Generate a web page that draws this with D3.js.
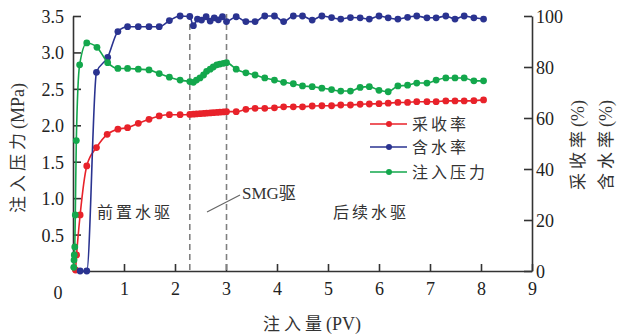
<!DOCTYPE html>
<html>
<head>
<meta charset="utf-8">
<script src="https://cdn.jsdelivr.net/npm/d3@7"></script>
<style>
  html, body { margin: 0; padding: 0; background: #fff; }
  svg { display: block; }
  .num { font-family: "Liberation Serif", "DejaVu Serif", serif; font-size: 18px; fill: #222; }
  .cjk { font-family: "Noto Sans CJK SC", sans-serif; font-size: 16px; fill: #333; letter-spacing: 3px; }
</style>
</head>
<body>
<svg id="chart" width="617" height="336"></svg>
<script>
// Injected volume (PV) and measured values for each series
const recoveryPV = [0.05, 0.07, 0.14, 0.27, 0.46, 0.67, 0.88, 1.07, 1.28, 1.49, 1.69, 1.89, 2.10,
  2.29, 2.36, 2.42, 2.49, 2.56, 2.62, 2.69, 2.75, 2.82, 2.88, 2.95, 3.01,
  3.20, 3.39, 3.57, 3.76, 3.95, 4.13, 4.32, 4.50, 4.69, 4.88, 5.07, 5.25, 5.44, 5.63, 5.81, 6.00,
  6.18, 6.37, 6.56, 6.74, 6.94, 7.12, 7.31, 7.49, 7.67, 7.86, 8.05];
const recovery = [0.4, 6.3, 22.0, 41.2, 48.4, 53.6, 55.6, 56.2, 57.9, 59.5, 60.8, 61.3, 61.3,
  61.4, 61.5, 61.6, 61.7, 61.8, 61.9, 62.0, 62.1, 62.2, 62.3, 62.4, 62.5,
  62.5, 63.4, 63.8, 63.8, 64.0, 64.4, 64.4, 64.4, 64.7, 64.8, 64.8, 65.1, 65.1, 65.4, 65.5, 65.6,
  65.8, 66.1, 66.1, 66.4, 66.4, 66.4, 66.7, 66.7, 66.7, 66.8, 67.1];

const waterCutPV = [0.14, 0.27, 0.46, 0.68, 0.88, 1.07, 1.28, 1.49, 1.69, 1.89, 2.10,
  2.29, 2.36, 2.44, 2.52, 2.61, 2.69, 2.77, 2.85, 2.93, 3.01,
  3.20, 3.39, 3.57, 3.76, 3.95, 4.13, 4.32, 4.50, 4.69, 4.88, 5.07, 5.25, 5.44, 5.63, 5.81, 6.00,
  6.18, 6.37, 6.56, 6.74, 6.94, 7.12, 7.31, 7.49, 7.67, 7.86, 8.05];
const waterCut = [0, 0, 77.9, 83.8, 93.9, 95.8, 95.8, 95.8, 95.8, 98.2, 100,
  99.8, 96.2, 98.8, 98.4, 99.7, 98.0, 99.3, 98.5, 99.7, 97.8,
  99.7, 97.8, 97.8, 100, 100, 97.8, 100, 100, 98.4, 100, 99.4, 98.8, 99.4, 99.3, 98.8, 100,
  99.3, 98.8, 99.5, 100, 99.3, 99.3, 100, 98.8, 100, 99.3, 98.8];

const pressurePV = [0.015, 0.02, 0.025, 0.035, 0.045, 0.065, 0.13, 0.27, 0.47, 0.68, 0.88, 1.07, 1.28, 1.49, 1.69, 1.89, 2.10,
  2.29, 2.36, 2.42, 2.49, 2.56, 2.62, 2.69, 2.75, 2.82, 2.88, 2.95, 3.01,
  3.20, 3.39, 3.57, 3.76, 3.95, 4.13, 4.32, 4.50, 4.69, 4.88, 5.07, 5.25, 5.44, 5.63, 5.81, 6.00,
  6.18, 6.37, 6.56, 6.74, 6.94, 7.12, 7.31, 7.49, 7.67, 7.86, 8.05];
const pressure = [0.05, 0.15, 0.22, 0.33, 0.77, 1.79, 2.83, 3.13, 3.07, 2.86, 2.78, 2.78, 2.77, 2.76, 2.71, 2.66, 2.62,
  2.60, 2.59, 2.62, 2.65, 2.69, 2.74, 2.77, 2.80, 2.83, 2.84, 2.85, 2.86,
  2.77, 2.72, 2.69, 2.65, 2.62, 2.59, 2.57, 2.54, 2.53, 2.51, 2.49, 2.47, 2.47, 2.52, 2.53, 2.48,
  2.46, 2.54, 2.55, 2.58, 2.58, 2.62, 2.65, 2.65, 2.65, 2.61, 2.61];

// Axis ticks
const xTicks = [1, 2, 3, 4, 5, 6, 7, 8, 9];
const leftTicks = [0.5, 1.0, 1.5, 2.0, 2.5, 3.0, 3.5];
const rightTicks = [0, 20, 40, 60, 80, 100];

// Stage boundaries (PV) and labels
const stageBounds = [2.29, 3.01];
const stageLabels = ["前置水驱", "SMG驱", "后续水驱"];
const seriesNames = ["采收率", "含水率", "注入压力"];
const colors = ["#e8222a", "#2a3390", "#13a74c"];

const svg = d3.select("#chart");
const x = d3.scaleLinear().domain([0, 9]).range([73, 532]);
const yL = d3.scaleLinear().domain([0, 3.5]).range([271, 16]);
const yR = d3.scaleLinear().domain([0, 100]).range([271, 16]);

const axisColor = "#333";

// Axes (ticks pointing inward)
const gx = svg.append("g").attr("transform", "translate(0,271)")
  .call(d3.axisBottom(x).tickValues(xTicks).tickSizeInner(-7).tickSizeOuter(0).tickPadding(14).tickFormat(d3.format("d")));
const gl = svg.append("g").attr("transform", "translate(73,0)")
  .call(d3.axisLeft(yL).tickValues(leftTicks).tickSizeInner(-8).tickSizeOuter(0).tickPadding(10).tickFormat(d3.format(".1f")));
const gr = svg.append("g").attr("transform", "translate(532,0)")
  .call(d3.axisRight(yR).tickValues(rightTicks).tickSizeInner(-8).tickSizeOuter(0).tickPadding(5).tickFormat(d3.format("d")));

[gx, gl, gr].forEach(g => {
  g.select(".domain").attr("stroke", axisColor).attr("stroke-width", 1.6);
  g.selectAll(".tick line").attr("stroke", axisColor).attr("stroke-width", 1.6);
  g.selectAll(".tick text").attr("class", "num").attr("font-family", null).attr("font-size", null).attr("fill", null);
});
gx.selectAll(".tick text").attr("dy", "0.55em");
gl.selectAll(".tick text").attr("x", -9).attr("dy", "0.36em");
gr.selectAll(".tick text").attr("x", 4).attr("dy", "0.36em");

// Corner zero label
svg.append("text").attr("class", "num").attr("x", x(0) - 15).attr("y", 299).attr("text-anchor", "middle").text("0");

// Stage boundary lines
svg.selectAll(".bound").data(stageBounds).join("line")
  .attr("x1", d => x(d)).attr("x2", d => x(d))
  .attr("y1", 14).attr("y2", 271)
  .attr("stroke", "#808080").attr("stroke-width", 1.6).attr("stroke-dasharray", "6,4");

// Series
const series = [
  { pv: recoveryPV, v: recovery, y: yR, c: colors[0] },
  { pv: waterCutPV, v: waterCut, y: yR, c: colors[1] },
  { pv: pressurePV, v: pressure, y: yL, c: colors[2] }
];
const plot = svg.append("g");
series.forEach(s => {
  const pts = s.pv.map((p, i) => [p, s.v[i]]);
  const line = d3.line().x(d => x(d[0])).y(d => s.y(d[1])).curve(d3.curveMonotoneX);
  plot.append("path").attr("d", line(pts)).attr("fill", "none").attr("stroke", s.c).attr("stroke-width", 1.6);
  plot.append("g").selectAll("circle").data(pts).join("circle")
    .attr("cx", d => x(d[0])).attr("cy", d => s.y(d[1])).attr("r", 3.4).attr("fill", s.c);
});

// Stage labels
svg.append("text").attr("class", "cjk").attr("x", 97).attr("y", 218).text(stageLabels[0]);
svg.append("text").attr("class", "cjk").attr("x", 333).attr("y", 218).text(stageLabels[2]);
svg.append("line").attr("x1", 207).attr("y1", 212).attr("x2", 240).attr("y2", 195)
  .attr("stroke", "#666").attr("stroke-width", 1.2);
svg.append("text").attr("x", 242).attr("y", 199)
  .style("font-family", "'Liberation Serif', 'Noto Sans CJK SC', serif").style("font-size", "17px").style("fill", "#333")
  .text(stageLabels[1]);

// Legend
const legY = [124, 147, 172];
const leg = svg.append("g");
seriesNames.forEach((name, i) => {
  leg.append("line").attr("x1", 370).attr("x2", 407).attr("y1", legY[i]).attr("y2", legY[i])
    .attr("stroke", colors[i]).attr("stroke-width", 1.6);
  leg.append("circle").attr("cx", 389).attr("cy", legY[i]).attr("r", 3).attr("fill", colors[i]);
  leg.append("text").attr("class", "cjk").attr("x", 412).attr("y", legY[i] + 6).text(name);
});

// Axis titles
function mixedTitle(g, cjk, latin) {
  g.append("tspan").attr("class", "cjk").style("font-size", "17px").style("letter-spacing", "4px").text(cjk);
  g.append("tspan").style("font-family", "'Liberation Serif', serif").style("font-size", "18px").style("fill", "#333").text(latin);
}
const tX = svg.append("text").attr("x", 312).attr("y", 330).attr("text-anchor", "middle");
mixedTitle(tX, "注入量", "(PV)");
const tL = svg.append("text").attr("transform", "translate(24,148) rotate(-90)").attr("text-anchor", "middle");
mixedTitle(tL, "注入压力", "(MPa)");
const tR1 = svg.append("text").attr("transform", "translate(584,145) rotate(-90)").attr("text-anchor", "middle");
mixedTitle(tR1, "采收率", "(%)");
const tR2 = svg.append("text").attr("transform", "translate(612,145) rotate(-90)").attr("text-anchor", "middle");
mixedTitle(tR2, "含水率", "(%)");
</script>
</body>
</html>
